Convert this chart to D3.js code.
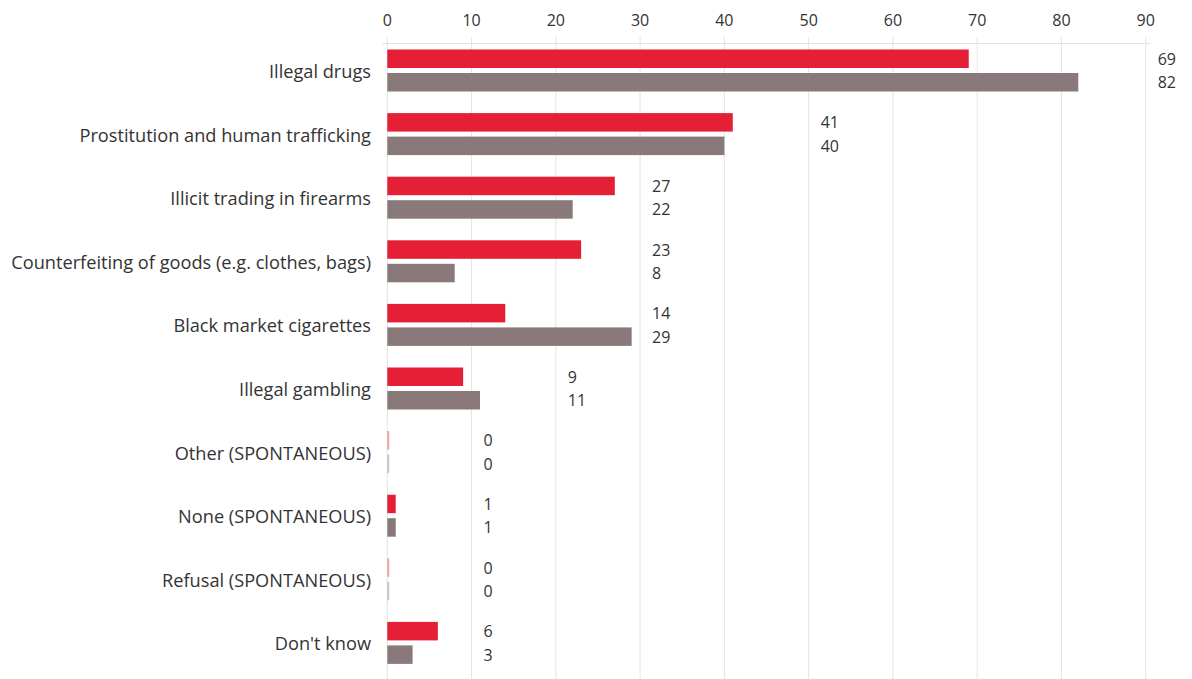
<!DOCTYPE html>
<html>
<head>
<meta charset="utf-8">
<script src="https://cdn.jsdelivr.net/npm/d3@7.9.0/dist/d3.min.js"></script>
<style>
  body { margin: 0; background: #fff; }
  svg text { font-family: "Open Sans", "Noto Sans", sans-serif; fill: #333; }
</style>
</head>
<body>
<svg id="chart" width="1192" height="679"></svg>
<script>
const categories = [
  'Illegal drugs',
  'Prostitution and human trafficking',
  'Illicit trading in firearms',
  'Counterfeiting of goods (e.g. clothes, bags)',
  'Black market cigarettes',
  'Illegal gambling',
  'Other (SPONTANEOUS)',
  'None (SPONTANEOUS)',
  'Refusal (SPONTANEOUS)',
  "Don't know"
];
const series1 = [69, 41, 27, 23, 14, 9, 0, 1, 0, 6];
const series2 = [82, 40, 22, 8, 29, 11, 0, 1, 0, 3];
const ticks = [0, 10, 20, 30, 40, 50, 60, 70, 80, 90];

const colors = ['#e52036', '#8a797b'];

const svg = d3.select('#chart');
const x = d3.scaleLinear().domain([0, 90]).range([387.3, 1145.7]);
const y = d3.scaleBand().domain(categories).range([38.7, 674.7]);

// gridlines
svg.append('g')
  .selectAll('line')
  .data(ticks)
  .join('line')
  .attr('x1', d => x(d)).attr('x2', d => x(d))
  .attr('y1', 37).attr('y2', 679)
  .attr('stroke', '#e3e3e3').attr('stroke-width', 1);

svg.append('line')
  .attr('x1', x(0) - 5).attr('x2', x(90) + 5)
  .attr('y1', 43.5).attr('y2', 43.5)
  .attr('stroke', '#e3e3e3');

// top axis labels
svg.append('g')
  .selectAll('text')
  .data(ticks)
  .join('text')
  .attr('x', d => x(d))
  .attr('y', 26)
  .attr('text-anchor', 'middle')
  .attr('font-size', 16)
  .text(d => d);

// category labels
svg.append('g')
  .selectAll('text')
  .data(categories)
  .join('text')
  .attr('x', 371)
  .attr('y', d => y(d) + y.bandwidth() / 2 + 7.5)
  .attr('text-anchor', 'end')
  .attr('font-size', 18.2)
  .text(d => d);

const barH = 18.5;
const gap = 5;

[series1, series2].forEach((vals, s) => {
  svg.append('g')
    .selectAll('rect')
    .data(vals)
    .join('rect')
    .attr('x', x(0))
    .attr('y', (d, i) => {
      const c = y(categories[i]) + y.bandwidth() / 2;
      return s === 0 ? c - gap / 2 - barH : c + gap / 2;
    })
    .attr('width', d => Math.max(2, x(d) - x(0)))
    .attr('height', barH)
    .attr('fill', colors[s])
    .attr('fill-opacity', d => d === 0 ? 0.4 : 1);
});

// value labels, placed past the next gridline
categories.forEach((cat, i) => {
  const m = Math.max(series1[i], series2[i]);
  const lx = x((Math.floor(m / 10) + 1) * 10) + 12;
  const c = y(cat) + y.bandwidth() / 2;
  [series1[i], series2[i]].forEach((v, s) => {
    svg.append('text')
      .attr('x', lx)
      .attr('y', s === 0 ? c - gap / 2 - barH / 2 + 6 : c + gap / 2 + barH / 2 + 6)
      .attr('font-size', 16)
      .text(v);
  });
});
</script>
</body>
</html>
